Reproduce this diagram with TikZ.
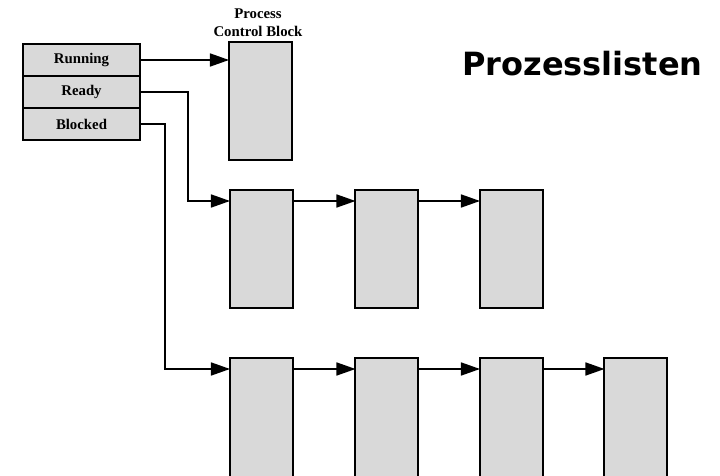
\documentclass[tikz,border=0pt]{standalone}
\usepackage{fontspec}
\setmainfont{Liberation Serif}
\newfontfamily\titlefont{DejaVu Sans}
\usetikzlibrary{arrows.meta}
\definecolor{boxgray}{HTML}{D9D9D9}
\tikzset{
  pcbbox/.style={draw=black, fill=boxgray, line width=1pt, minimum width=31.5pt, minimum height=59pt, inner sep=0pt, outer sep=0pt},
  tallbox/.style={pcbbox, minimum height=62pt},
  tabrow/.style={draw=black, fill=boxgray, line width=1.1pt, minimum width=58.5pt, minimum height=16pt, inner sep=0pt, outer sep=0pt, font=\fontsize{7.4}{9}\selectfont\bfseries},
  conn/.style={line width=0.8pt, -{Triangle[length=9.5pt,width=6.5pt]}},
  lbl/.style={font=\fontsize{7.4}{9}\selectfont\bfseries, inner sep=0pt}
}
\begin{document}
\begin{tikzpicture}[x=0.5pt,y=-0.5pt]
\clip (0,0) rectangle (720,476);
\fill[white] (0,0) rectangle (720,476);
% table
\node[tabrow] (run) at (81.5,60) {Running};
\node[tabrow] (ready) at (81.5,92) {Ready};
\node[tabrow] (blocked) at (81.5,124) {Blocked};
% PCB
\node[pcbbox] (pcb) at (260.5,101.5) {};
\node[lbl, anchor=base] (pcbl1) at (258,19) {Process};
\node[lbl, anchor=base] (pcbl2) at (258,37) {Control Block};
% ready list
\node[pcbbox] (r1) at (261.5,249) {};
\node[pcbbox] (r2) at (387,249) {};
\node[pcbbox] (r3) at (511.5,249) {};
% blocked list
\node[tallbox] (b1) at (261.5,420) {};
\node[tallbox] (b2) at (387,420) {};
\node[tallbox] (b3) at (511.5,420) {};
\node[tallbox] (b4) at (636,420) {};
% title
\node[font=\titlefont\bfseries\fontsize{16}{19}\selectfont, anchor=base, inner sep=0pt] (title) at (582.5,76) {Prozesslisten};
% connectors
\draw[conn] (run.east) -- (run.east -| pcb.west);
\draw[conn] (ready.east) -- ++(48,0) |- ([yshift=-5.5pt]r1.north west);
\draw[conn] (blocked.east) -- ++(25,0) |- ([yshift=-5.5pt]b1.north west);
\draw[conn] ([yshift=-5.5pt]r1.north east) -- ([yshift=-5.5pt]r2.north west);
\draw[conn] ([yshift=-5.5pt]r2.north east) -- ([yshift=-5.5pt]r3.north west);
\draw[conn] ([yshift=-5.5pt]b1.north east) -- ([yshift=-5.5pt]b2.north west);
\draw[conn] ([yshift=-5.5pt]b2.north east) -- ([yshift=-5.5pt]b3.north west);
\draw[conn] ([yshift=-5.5pt]b3.north east) -- ([yshift=-5.5pt]b4.north west);
\end{tikzpicture}
\end{document}
